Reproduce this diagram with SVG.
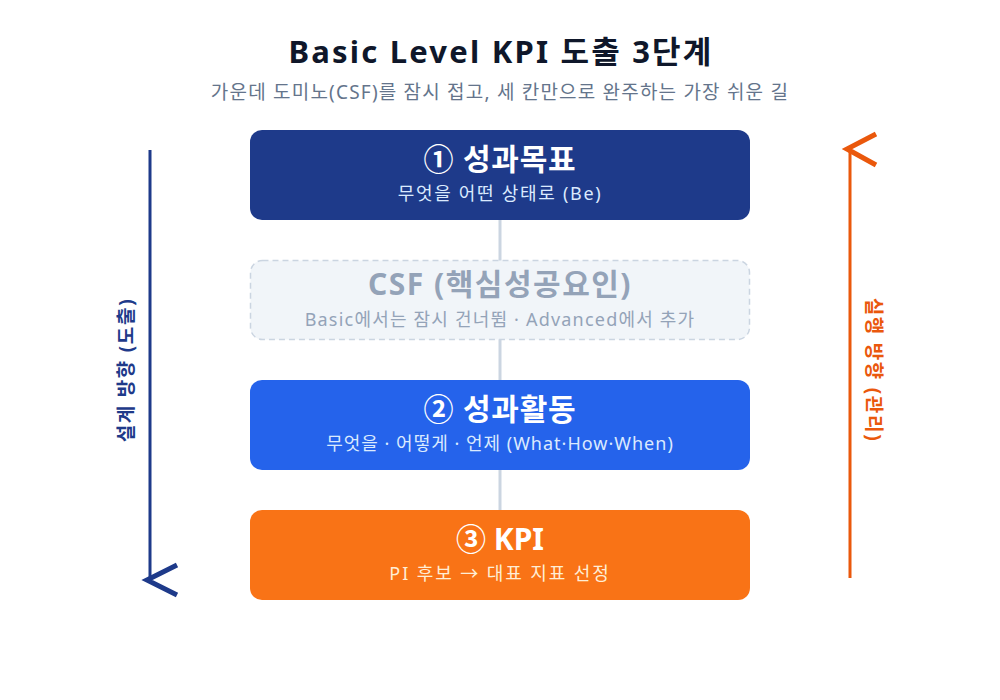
<svg xmlns="http://www.w3.org/2000/svg" width="1000" height="700" viewBox="0 0 1000 700">
<style>
text{font-family:"Noto Sans","Noto Sans CJK KR",sans-serif;text-anchor:middle}
.t{font-size:30px;font-weight:700;fill:#ffffff}
.s{font-size:18px;fill:#dbeafe}
.side{font-size:19px;font-weight:700;letter-spacing:1.7px}
.conn{stroke:#cbd5e1;stroke-width:3;fill:none}
</style>
<rect width="1000" height="700" fill="#ffffff"/>
<text x="501" y="63" style="font-size:31px;font-weight:700;fill:#0f172a;letter-spacing:2.2px">Basic Level KPI 도출 3단계</text>
<text x="500" y="99" style="font-size:19px;fill:#64748b;letter-spacing:1.2px">가운데 도미노(CSF)를 잠시 접고, 세 칸만으로 완주하는 가장 쉬운 길</text>
<g id="connectors">
<line class="conn" x1="500" y1="220" x2="500" y2="510"/>
</g>
<g id="design-arrow">
<line x1="150" y1="150" x2="150" y2="578" stroke="#1e3a8a" stroke-width="3"/>
<polyline points="177,565 147,580 177,595" fill="none" stroke="#1e3a8a" stroke-width="5"/>
<text class="side" transform="translate(133,370) rotate(-90)" style="fill:#1e3a8a">설계 방향 (도출)</text>
</g>
<g id="exec-arrow">
<line x1="850" y1="150" x2="850" y2="578" stroke="#ea580c" stroke-width="3"/>
<polyline points="876,134 847,149 876,165" fill="none" stroke="#ea580c" stroke-width="5"/>
<text class="side" transform="translate(867,370) rotate(90)" style="fill:#ea580c">실행 방향 (관리)</text>
</g>
<g id="goal">
<rect x="250" y="130" width="500" height="90" rx="12" fill="#1e3a8a"/>
<text class="t" x="500" y="170" style="letter-spacing:0.8px">① 성과목표</text>
<text class="s" x="500" y="200" style="letter-spacing:1.7px">무엇을 어떤 상태로 (Be)</text>
</g>
<g id="csf">
<rect x="250.5" y="260.5" width="499" height="79" rx="12" fill="#f1f5f9" stroke="#cbd5e1" stroke-width="1.5" stroke-dasharray="6,4"/>
<text class="t" x="500" y="295" style="fill:#94a3b8;letter-spacing:1.5px">CSF (핵심성공요인)</text>
<text class="s" x="500" y="326" style="fill:#94a3b8;letter-spacing:1.2px">Basic에서는 잠시 건너뜀 · Advanced에서 추가</text>
</g>
<g id="activity">
<rect x="250" y="380" width="500" height="90" rx="12" fill="#2563eb"/>
<text class="t" x="500" y="420" style="letter-spacing:0.8px">② 성과활동</text>
<text class="s" x="500" y="450" style="letter-spacing:1px">무엇을 · 어떻게 · 언제 (What·How·When)</text>
</g>
<g id="kpi">
<rect x="250" y="510" width="500" height="90" rx="12" fill="#f97316"/>
<text class="t" x="500" y="550">③ KPI</text>
<text class="s" x="500" y="580" style="fill:#ffedd5;letter-spacing:1.9px">PI 후보 → 대표 지표 선정</text>
</g>
</svg>
